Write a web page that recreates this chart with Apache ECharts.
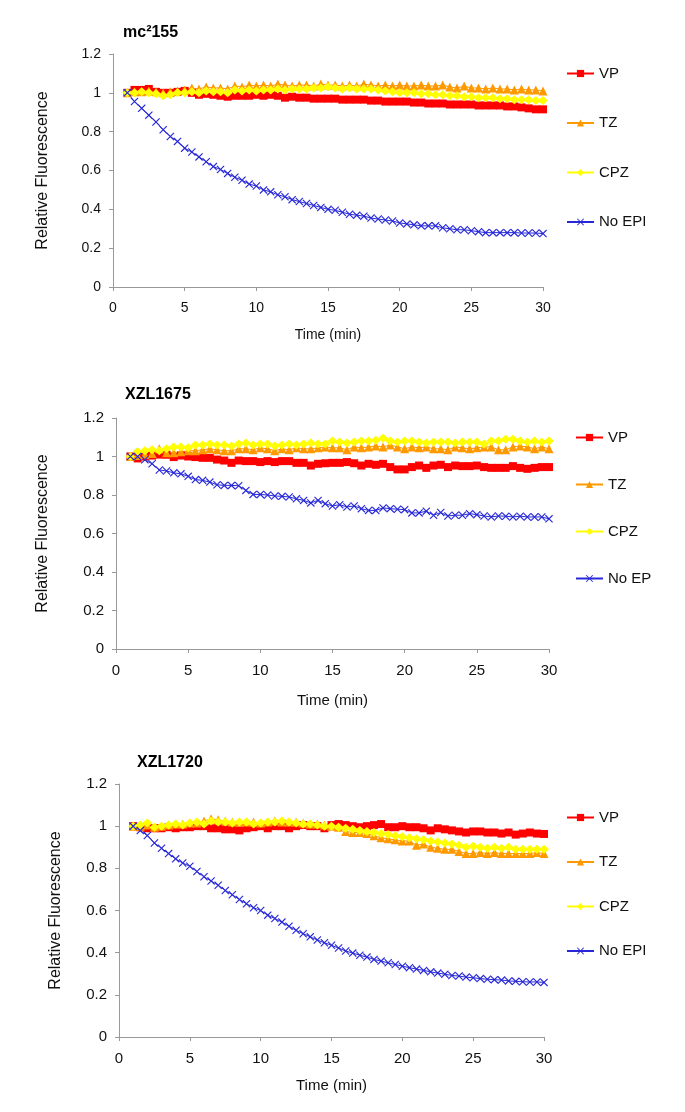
<!DOCTYPE html>
<html><head><meta charset="utf-8">
<script src="https://cdn.jsdelivr.net/npm/echarts@6/dist/echarts.min.js"></script>
<style>html,body{margin:0;padding:0;background:#fff}#c{width:685px;height:1112px}</style>
</head><body><div id="c"></div>
<script>
// Time points (min)
const times = [1,1.5,2,2.5,3,3.5,4,4.5,5,5.5,6,6.5,7,7.5,8,8.5,9,9.5,10,10.5,11,11.5,12,12.5,13,13.5,14,14.5,15,15.5,16,16.5,17,17.5,18,18.5,19,19.5,20,20.5,21,21.5,22,22.5,23,23.5,24,24.5,25,25.5,26,26.5,27,27.5,28,28.5,29,29.5,30];
const xTicks = [0,5,10,15,20,25,30];
const yTicks = [0,0.2,0.4,0.6,0.8,1,1.2];
const panelTitles = ['mc\u00b2155','XZL1675','XZL1720'];
const legend1 = ['VP','TZ','CPZ','No EPI'];
const legend2 = ['VP','TZ','CPZ','No EP'];
const legend3 = ['VP','TZ','CPZ','No EPI'];

// Panel 1: mc2155
const p1_vp = [1.00,1.015,1.015,1.02,1.005,1.0,1.0,1.005,1.01,1.0,0.99,0.995,0.99,0.985,0.98,0.985,0.985,0.985,0.99,0.985,0.99,0.985,0.975,0.98,0.975,0.975,0.97,0.97,0.97,0.97,0.965,0.965,0.965,0.965,0.96,0.96,0.955,0.955,0.955,0.955,0.95,0.95,0.945,0.945,0.945,0.94,0.94,0.94,0.94,0.935,0.935,0.935,0.935,0.93,0.93,0.925,0.92,0.915,0.915];
const p1_tz = [1.0,1.005,1.005,1.01,1.005,1.0,1.005,1.01,1.015,1.025,1.02,1.03,1.025,1.025,1.02,1.035,1.03,1.04,1.035,1.04,1.035,1.045,1.04,1.035,1.04,1.04,1.035,1.045,1.04,1.04,1.035,1.04,1.035,1.045,1.04,1.035,1.04,1.035,1.04,1.035,1.035,1.04,1.035,1.035,1.04,1.03,1.025,1.035,1.025,1.025,1.02,1.025,1.02,1.02,1.015,1.02,1.015,1.015,1.01];
const p1_cpz = [1.0,1.0,1.005,1.0,0.995,0.985,0.99,1.0,1.0,1.005,1.0,1.01,1.005,1.005,1.0,1.015,1.01,1.015,1.01,1.015,1.015,1.02,1.015,1.02,1.02,1.02,1.025,1.025,1.03,1.025,1.02,1.025,1.02,1.02,1.02,1.015,1.01,1.005,1.0,1.0,1.0,0.995,0.995,0.99,0.99,0.985,0.985,0.98,0.98,0.975,0.975,0.975,0.97,0.97,0.965,0.965,0.965,0.96,0.96];
const p1_noepi = [1.0,0.955,0.92,0.885,0.85,0.81,0.775,0.75,0.715,0.695,0.67,0.645,0.62,0.605,0.585,0.565,0.55,0.53,0.52,0.50,0.49,0.475,0.465,0.45,0.44,0.43,0.42,0.41,0.40,0.395,0.385,0.375,0.37,0.365,0.355,0.35,0.345,0.34,0.33,0.325,0.32,0.315,0.315,0.315,0.305,0.30,0.295,0.295,0.29,0.285,0.28,0.28,0.28,0.28,0.28,0.278,0.278,0.278,0.275];

// Panel 2: XZL1675
const p2_vp = [1.0,0.99,1.0,1.005,1.01,1.009,0.997,1.005,1.0,0.997,0.993,0.993,0.984,0.979,0.967,0.979,0.976,0.976,0.971,0.976,0.971,0.976,0.976,0.967,0.967,0.953,0.962,0.965,0.967,0.967,0.971,0.965,0.953,0.962,0.957,0.962,0.945,0.933,0.933,0.945,0.953,0.941,0.953,0.957,0.945,0.953,0.95,0.95,0.953,0.945,0.941,0.941,0.941,0.95,0.941,0.936,0.941,0.945,0.945];
const p2_tz = [1.0,1.005,1.01,1.015,1.04,1.02,1.02,1.025,1.03,1.03,1.035,1.04,1.035,1.03,1.03,1.04,1.04,1.035,1.045,1.04,1.03,1.04,1.035,1.045,1.04,1.04,1.045,1.05,1.045,1.045,1.035,1.05,1.045,1.05,1.055,1.05,1.06,1.05,1.04,1.05,1.045,1.05,1.04,1.04,1.035,1.05,1.045,1.04,1.045,1.05,1.05,1.035,1.035,1.05,1.055,1.05,1.04,1.05,1.04];
const p2_cpz = [1.0,1.025,1.03,1.035,1.03,1.04,1.05,1.05,1.045,1.06,1.06,1.065,1.06,1.06,1.055,1.065,1.07,1.06,1.065,1.065,1.055,1.06,1.065,1.06,1.065,1.07,1.065,1.065,1.08,1.075,1.07,1.075,1.08,1.08,1.085,1.095,1.08,1.075,1.08,1.08,1.075,1.07,1.075,1.075,1.075,1.07,1.075,1.075,1.075,1.065,1.08,1.08,1.09,1.09,1.08,1.075,1.08,1.075,1.08];
const p2_noep = [1.0,1.0,0.983,0.962,0.93,0.925,0.915,0.91,0.897,0.88,0.876,0.867,0.853,0.85,0.85,0.848,0.824,0.803,0.803,0.80,0.795,0.793,0.79,0.78,0.772,0.759,0.772,0.755,0.743,0.75,0.738,0.743,0.729,0.72,0.72,0.733,0.729,0.726,0.724,0.707,0.707,0.716,0.695,0.709,0.691,0.695,0.695,0.703,0.698,0.691,0.686,0.691,0.69,0.686,0.69,0.686,0.686,0.686,0.676];

// Panel 3: XZL1720
const p3_vp = [1.0,0.995,0.99,0.99,0.99,0.995,0.99,0.995,0.995,1.0,1.0,0.99,0.99,0.985,0.985,0.98,0.99,0.995,1.0,0.99,1.0,1.0,0.99,1.0,1.005,1.0,1.0,0.99,1.005,1.01,1.005,1.0,0.995,1.0,1.005,1.01,0.995,0.995,1.0,0.995,0.995,0.99,0.98,0.99,0.985,0.98,0.975,0.97,0.975,0.975,0.97,0.97,0.965,0.97,0.96,0.965,0.97,0.965,0.963];
const p3_tz = [1.0,1.0,1.005,0.995,1.0,1.005,1.01,1.01,1.015,1.015,1.025,1.035,1.03,1.025,1.02,1.02,1.02,1.02,1.015,1.02,1.025,1.02,1.02,1.02,1.015,1.01,1.01,1.005,1.0,0.995,0.975,0.97,0.97,0.965,0.955,0.945,0.94,0.935,0.93,0.93,0.91,0.915,0.9,0.895,0.89,0.89,0.88,0.87,0.87,0.875,0.87,0.875,0.87,0.87,0.87,0.87,0.87,0.875,0.87];
const p3_cpz = [1.0,1.005,1.015,0.995,1.0,1.005,1.01,1.005,1.015,1.02,1.01,1.025,1.02,1.02,1.015,1.02,1.02,1.01,1.015,1.02,1.02,1.025,1.02,1.015,1.01,1.01,1.005,1.0,1.0,0.995,0.99,0.985,0.98,0.975,0.97,0.965,0.96,0.955,0.95,0.945,0.94,0.935,0.93,0.925,0.92,0.915,0.91,0.9,0.905,0.9,0.895,0.9,0.895,0.9,0.89,0.89,0.89,0.89,0.89];
const p3_noepi = [1.0,0.979,0.956,0.92,0.895,0.87,0.845,0.825,0.81,0.785,0.76,0.74,0.72,0.695,0.675,0.652,0.632,0.613,0.60,0.578,0.562,0.545,0.525,0.506,0.49,0.475,0.46,0.447,0.435,0.422,0.408,0.398,0.388,0.379,0.368,0.36,0.352,0.344,0.336,0.329,0.322,0.316,0.309,0.303,0.298,0.292,0.289,0.284,0.281,0.277,0.274,0.272,0.27,0.266,0.264,0.262,0.261,0.261,0.259];

const FONT = '"Liberation Sans", Arial, Helvetica, sans-serif';
const COLORS = {VP:'#FF0000', TZ:'#FF9900', CPZ:'#FFFF00', NO:'#2828D8'};
const CROSS = 'path://M0,1L1,0L10,9L9,10Z M9,0L10,1L1,10L0,9Z';

const grids = [
  {left:113, top:54, width:430, height:233},
  {left:116, top:418, width:433, height:231},
  {left:119, top:784, width:425, height:253}
];
const yNameGap = [62, 65, 55];
const xNameGap = [41, 44, 41];
const fs = [14, 15, 15];

function pairs(vals){ return times.map((t,i)=>[t, vals[i]]); }

const xAxes = grids.map((g,i)=>({
  type:'value', gridIndex:i, min:0, max:30, interval:5,
  name:'Time (min)', nameLocation:'middle', nameGap:xNameGap[i],
  nameTextStyle:{fontFamily:FONT, fontSize:fs[i], color:'#111'},
  axisLine:{show:true, onZero:false, lineStyle:{color:'#999', width:1}},
  axisTick:{show:true, length:4, inside:false, lineStyle:{color:'#999'}},
  axisLabel:{fontFamily:FONT, fontSize:fs[i], color:'#111', margin:14},
  splitLine:{show:false}
}));
const yAxes = grids.map((g,i)=>({
  type:'value', gridIndex:i, min:0, max:1.2, interval:0.2,
  name:'Relative Fluorescence', nameLocation:'middle', nameGap:yNameGap[i], nameRotate:90,
  nameTextStyle:{fontFamily:FONT, fontSize:16, color:'#111'},
  axisLine:{show:true, lineStyle:{color:'#999', width:1}},
  axisTick:{show:true, length:4, inside:false, lineStyle:{color:'#999'}},
  axisLabel:{fontFamily:FONT, fontSize:fs[i], color:'#111', margin:12},
  splitLine:{show:false}
}));

function mk(name, vals, idx, kind){
  const base = {name, type:'line', xAxisIndex:idx, yAxisIndex:idx, data:pairs(vals), animation:false, z:2};
  if(kind==='VP') return Object.assign(base,{symbol:'rect', symbolSize:8, lineStyle:{color:COLORS.VP,width:1}, itemStyle:{color:COLORS.VP}});
  if(kind==='TZ') return Object.assign(base,{symbol:'triangle', symbolSize:9, lineStyle:{color:COLORS.TZ,width:1}, itemStyle:{color:COLORS.TZ}});
  if(kind==='CPZ') return Object.assign(base,{symbol:'diamond', symbolSize:[10,9], lineStyle:{color:COLORS.CPZ,width:1}, itemStyle:{color:COLORS.CPZ}});
  return Object.assign(base,{symbol:CROSS, symbolSize:8, lineStyle:{color:COLORS.NO,width:1}, itemStyle:{color:COLORS.NO}});
}

const series = [
  mk('VP',p1_vp,0,'VP'), mk('TZ',p1_tz,0,'TZ'), mk('CPZ',p1_cpz,0,'CPZ'), mk('No EPI',p1_noepi,0,'NO'),
  mk('VP',p2_vp,1,'VP'), mk('TZ',p2_tz,1,'TZ'), mk('CPZ',p2_cpz,1,'CPZ'), mk('No EP',p2_noep,1,'NO'),
  mk('VP',p3_vp,2,'VP'), mk('TZ',p3_tz,2,'TZ'), mk('CPZ',p3_cpz,2,'CPZ'), mk('No EPI',p3_noepi,2,'NO')
];

function lg(data, left, top, gap){
  return {data, orient:'vertical', left, top, itemGap:gap, itemWidth:27, itemHeight:9, padding:0,
    selectedMode:false, textStyle:{fontFamily:FONT, fontSize:15, color:'#111', lineHeight:14}};
}

const option = {
  backgroundColor:'#fff',
  animation:false,
  title: [
    {text:panelTitles[0], left:123, top:25, padding:0, textStyle:{fontFamily:FONT, fontSize:16, fontWeight:'bold', color:'#000'}},
    {text:panelTitles[1], left:125, top:387, padding:0, textStyle:{fontFamily:FONT, fontSize:16, fontWeight:'bold', color:'#000'}},
    {text:panelTitles[2], left:137, top:755, padding:0, textStyle:{fontFamily:FONT, fontSize:16, fontWeight:'bold', color:'#000'}}
  ],
  legend: [
    lg(legend1, 566, 66, 34.5),
    lg(legend2, 575, 430, 32),
    lg(legend3, 566, 810, 29.5)
  ],
  grid: grids,
  xAxis: xAxes,
  yAxis: yAxes,
  series
};
const chart = echarts.init(document.getElementById('c'));
chart.setOption(option);
</script></body></html>
